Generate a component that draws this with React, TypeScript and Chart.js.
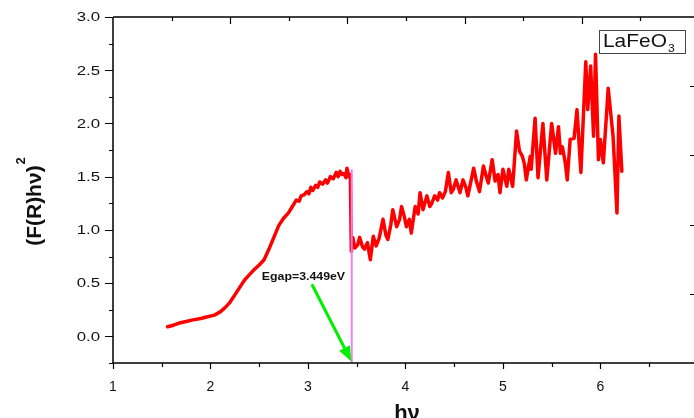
import React, { useEffect, useRef } from "react";
import { Chart, registerables } from "chart.js";

Chart.register(...registerables);

// ---- data ----
const hv: number[] = [
  1.56, 1.62, 1.68, 1.75, 1.82, 1.9, 1.97, 2.04, 2.1, 2.15, 2.2, 2.25, 2.3, 2.35, 2.4, 2.45, 2.5, 2.55,
  2.6, 2.65, 2.7, 2.75, 2.8, 2.84, 2.88, 2.91, 2.93, 2.96, 2.99, 3.01, 3.03, 3.05, 3.08, 3.1, 3.12,
  3.15, 3.18, 3.2, 3.23, 3.26, 3.29, 3.31, 3.33, 3.35, 3.37, 3.39, 3.4, 3.42, 3.435,
  3.445, 3.46, 3.48, 3.51, 3.53, 3.56, 3.58, 3.61, 3.64, 3.67, 3.7, 3.73, 3.77, 3.8, 3.82, 3.85, 3.87,
  3.91, 3.94, 3.96, 3.99, 4.01, 4.04, 4.06, 4.1, 4.13, 4.15, 4.18, 4.22, 4.25, 4.27, 4.3, 4.33, 4.35,
  4.38, 4.41, 4.44, 4.47, 4.49, 4.52, 4.56, 4.59, 4.62, 4.64, 4.67, 4.7, 4.73, 4.76, 4.8, 4.83, 4.85,
  4.89, 4.92, 4.95, 4.97, 5.0, 5.04, 5.06, 5.1, 5.14, 5.17, 5.2, 5.22, 5.24, 5.28, 5.29, 5.33, 5.36,
  5.41, 5.45, 5.5, 5.54, 5.57, 5.59, 5.61, 5.64, 5.66, 5.69, 5.73, 5.76, 5.8, 5.85, 5.87, 5.9, 5.93,
  5.95, 5.98, 6.0, 6.03, 6.08, 6.13, 6.17, 6.19, 6.22,
];
const frhv2: number[] = [
  0.09, 0.105, 0.125, 0.14, 0.155, 0.168, 0.185, 0.2, 0.23, 0.27, 0.32, 0.39, 0.46, 0.53, 0.58, 0.63, 0.67, 0.72,
  0.82, 0.93, 1.04, 1.11, 1.16, 1.22, 1.28, 1.27, 1.32, 1.33, 1.36, 1.34, 1.4, 1.37, 1.42, 1.4, 1.45,
  1.43, 1.47, 1.44, 1.5, 1.48, 1.54, 1.5, 1.55, 1.52, 1.53, 1.49, 1.58, 1.5, 1.52,
  0.8, 0.93, 0.83, 0.86, 0.93, 0.84, 0.82, 0.88, 0.72, 0.94, 0.85, 0.92, 1.1, 0.95, 0.91, 1.05, 1.19,
  1.03, 1.1, 1.22, 1.12, 1.03, 1.1, 0.97, 1.22, 1.15, 1.35, 1.19, 1.32, 1.22, 1.25, 1.32, 1.28, 1.35,
  1.3, 1.36, 1.54, 1.35, 1.38, 1.47, 1.35, 1.47, 1.4, 1.32, 1.45, 1.58, 1.45, 1.36, 1.6, 1.5, 1.44,
  1.66, 1.46, 1.52, 1.35, 1.57, 1.41, 1.57, 1.41, 1.93, 1.74, 1.69, 1.62, 1.47, 1.69, 1.57, 2.05, 1.49,
  2.0, 1.47, 2.0, 1.72, 1.97, 1.72, 1.78, 1.63, 1.47, 1.85, 1.86, 2.13, 1.54, 2.58, 2.13, 2.54, 1.88,
  2.65, 1.66, 1.85, 1.63, 2.33, 1.88, 1.16, 2.07, 1.55,
];

const xTicks: number[] = [1, 2, 3, 4, 5, 6];
const xMinorTicks: number[] = [1.5, 2.5, 3.5, 4.5, 5.5, 6.5];
const yTicks: number[] = [0, 0.5, 1.0, 1.5, 2.0, 2.5, 3.0];
const yMinorTicks: number[] = [-0.25, 0.25, 0.75, 1.25, 1.75, 2.25, 2.75];

const X_MIN = 1;
const X_MAX = 6.95;
const Y_MIN = -0.25;
const Y_MAX = 3.0;

const SERIES_LABEL = "LaFeO";
const SERIES_SUB = "3";
const X_TITLE = "hν";
const Y_TITLE = "(F(R)hν)";
const Y_TITLE_SUP = "2";

const EGAP = 3.449;
const EGAP_LABEL = "Egap=3.449eV";
const EGAP_TOP = 1.57;
const LABEL_AT: number[] = [2.954, 0.53];
const ARROW_FROM: number[] = [3.04, 0.49];
const ARROW_TO: number[] = [3.445, -0.235];

const FONT = "'Liberation Sans', Arial, sans-serif";

function stretchText(
  ctx: CanvasRenderingContext2D,
  text: string,
  x: number,
  y: number,
  sx: number,
  align: CanvasTextAlign
) {
  ctx.save();
  ctx.translate(x, y);
  ctx.scale(sx, 1);
  ctx.textAlign = align;
  ctx.fillText(text, 0, 0);
  ctx.restore();
}

const decorPlugin = {
  id: "decor",
  afterDatasetsDraw(chart: any) {
    const ctx: CanvasRenderingContext2D = chart.ctx;
    const xs = chart.scales.x;
    const ys = chart.scales.y;
    ctx.save();
    // pink Egap line
    const ex = xs.getPixelForValue(EGAP);
    ctx.strokeStyle = "#f47ef4";
    ctx.lineWidth = 2;
    ctx.beginPath();
    ctx.moveTo(ex, ys.getPixelForValue(EGAP_TOP));
    ctx.lineTo(ex, ys.getPixelForValue(Y_MIN));
    ctx.stroke();

    // green arrow
    const x0 = xs.getPixelForValue(ARROW_FROM[0]);
    const y0 = ys.getPixelForValue(ARROW_FROM[1]);
    const x1 = xs.getPixelForValue(ARROW_TO[0]);
    const y1 = ys.getPixelForValue(ARROW_TO[1]);
    const ang = Math.atan2(y1 - y0, x1 - x0);
    const headLen = 15;
    const headW = 6;
    const bx = x1 - headLen * Math.cos(ang);
    const by = y1 - headLen * Math.sin(ang);
    ctx.strokeStyle = "#00f000";
    ctx.fillStyle = "#00f000";
    ctx.lineWidth = 3;
    ctx.beginPath();
    ctx.moveTo(x0, y0);
    ctx.lineTo(bx, by);
    ctx.stroke();
    ctx.beginPath();
    ctx.moveTo(x1, y1);
    ctx.lineTo(bx + headW * Math.sin(ang), by - headW * Math.cos(ang));
    ctx.lineTo(bx - headW * Math.sin(ang), by + headW * Math.cos(ang));
    ctx.closePath();
    ctx.fill();

    // label
    ctx.fillStyle = "#111";
    ctx.font = `bold 11px ${FONT}`;
    ctx.textBaseline = "alphabetic";
    stretchText(
      ctx,
      EGAP_LABEL,
      xs.getPixelForValue(LABEL_AT[0]),
      ys.getPixelForValue(LABEL_AT[1]),
      1.12,
      "center"
    );
    ctx.restore();
  },
  afterDraw(chart: any) {
    const ctx: CanvasRenderingContext2D = chart.ctx;
    const xs = chart.scales.x;
    const ys = chart.scales.y;
    const a = chart.chartArea;
    const W = chart.width;
    ctx.save();
    ctx.strokeStyle = "#000";
    ctx.lineWidth = 1.5;
    // axis lines
    ctx.beginPath();
    ctx.moveTo(a.left, a.top);
    ctx.lineTo(a.left, a.bottom);
    ctx.moveTo(a.left, a.bottom);
    ctx.lineTo(W, a.bottom);
    ctx.moveTo(a.left, a.top);
    ctx.lineTo(W, a.top);
    ctx.stroke();

    // left ticks
    ctx.lineWidth = 1.2;
    ctx.beginPath();
    yTicks.forEach((v) => {
      const y = Math.round(ys.getPixelForValue(v)) + 0.5;
      ctx.moveTo(a.left - 8, y);
      ctx.lineTo(a.left, y);
    });
    yMinorTicks.forEach((v) => {
      const y = Math.round(ys.getPixelForValue(v)) + 0.5;
      ctx.moveTo(a.left - 4, y);
      ctx.lineTo(a.left, y);
    });
    // bottom ticks
    xTicks.forEach((v) => {
      const x = Math.round(xs.getPixelForValue(v)) + 0.5;
      ctx.moveTo(x, a.bottom);
      ctx.lineTo(x, a.bottom + 6);
    });
    xMinorTicks.forEach((v) => {
      const x = Math.round(xs.getPixelForValue(v)) + 0.5;
      ctx.moveTo(x, a.bottom);
      ctx.lineTo(x, a.bottom + 4);
    });
    // top ticks (inward)
    for (let k = 1; k < 11; k++) {
      const x = Math.round(a.left + k * 58.6) + 0.5;
      if (x > W) break;
      ctx.moveTo(x, a.top);
      ctx.lineTo(x, a.top + (k % 2 === 0 ? 7 : 4));
    }
    // right ticks (inward)
    for (let k = 1; k < 5; k++) {
      const y = Math.round(a.top + k * 69.2) + 0.5;
      ctx.moveTo(W, y);
      ctx.lineTo(W - 4, y);
    }
    ctx.stroke();

    // tick labels
    ctx.fillStyle = "#111";
    ctx.textBaseline = "alphabetic";
    ctx.font = `12px ${FONT}`;
    yTicks.forEach((v) => {
      const y = ys.getPixelForValue(v);
      stretchText(ctx, v.toFixed(1), a.left - 13, y + 4.3, 1.4, "right");
    });
    ctx.font = `14px ${FONT}`;
    xTicks.forEach((v) => {
      const x = xs.getPixelForValue(v);
      ctx.textAlign = "center";
      ctx.fillText(String(v), x, a.bottom + 28);
    });

    // x title
    ctx.font = `bold 22px ${FONT}`;
    ctx.textAlign = "center";
    ctx.fillText(X_TITLE, 407, 420);

    // y title
    ctx.save();
    ctx.translate(41, 202);
    ctx.rotate(-Math.PI / 2);
    ctx.font = `bold 21px ${FONT}`;
    const w1 = ctx.measureText(Y_TITLE).width;
    ctx.font = `bold 13px ${FONT}`;
    const w2 = ctx.measureText(Y_TITLE_SUP).width;
    const start = -(w1 + w2) / 2;
    ctx.textAlign = "left";
    ctx.font = `bold 21px ${FONT}`;
    ctx.fillText(Y_TITLE, start, 0);
    ctx.font = `bold 13px ${FONT}`;
    ctx.fillText(Y_TITLE_SUP, start + w1 + 1, -16);
    ctx.restore();

    // legend box
    ctx.fillStyle = "#fff";
    ctx.fillRect(599, 30, 86, 23);
    ctx.strokeStyle = "#444";
    ctx.lineWidth = 1;
    ctx.strokeRect(599.5, 30.5, 86, 23);
    ctx.fillStyle = "#111";
    ctx.font = `19px ${FONT}`;
    ctx.textAlign = "left";
    ctx.save();
    ctx.translate(603, 47);
    ctx.scale(1.1, 1);
    ctx.fillText(SERIES_LABEL, 0, 0);
    const lw = ctx.measureText(SERIES_LABEL).width;
    ctx.font = `11px ${FONT}`;
    ctx.fillText(SERIES_SUB, lw + 1, 5);
    ctx.restore();

    ctx.restore();
  },
};

export default function App() {
  const ref = useRef<HTMLCanvasElement | null>(null);
  useEffect(() => {
    if (!ref.current) return;
    const chart = new Chart(ref.current, {
      type: "line",
      data: {
        datasets: [
          {
            label: SERIES_LABEL + SERIES_SUB,
            data: hv.map((x, i) => ({ x, y: frhv2[i] })),
            borderColor: "#ff0000",
            backgroundColor: "#ff0000",
            borderWidth: 3.5,
            pointRadius: 0,
            tension: 0,
            borderJoinStyle: "round",
            borderCapStyle: "round",
            fill: false,
          },
        ],
      },
      options: {
        responsive: false,
        animation: false,
        layout: { padding: { left: 113, top: 17, right: 1, bottom: 55 } },
        scales: {
          x: { type: "linear", min: X_MIN, max: X_MAX, display: false },
          y: { type: "linear", min: Y_MIN, max: Y_MAX, display: false },
        },
        plugins: { legend: { display: false }, tooltip: { enabled: false } },
        events: [],
      },
      plugins: [decorPlugin],
    });
    return () => chart.destroy();
  }, []);
  return (
    <div style={{ position: "fixed", left: 0, top: 0, width: 694, height: 418, background: "#fff" }}>
      <canvas ref={ref} width={694} height={418} style={{ display: "block" }} />
    </div>
  );
}
